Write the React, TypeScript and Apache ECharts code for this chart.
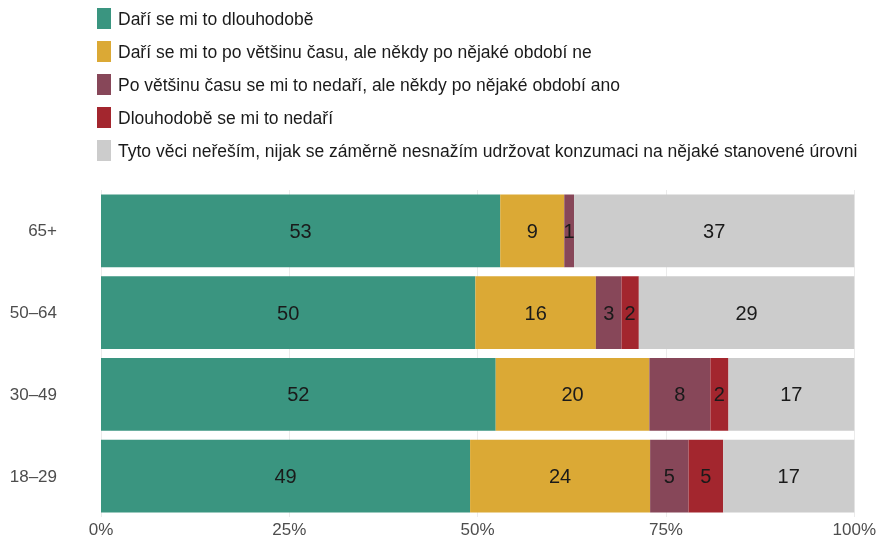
import React, { useEffect, useRef } from "react";
import * as echarts from "echarts";

const categories = ["18–29", "30–49", "50–64", "65+"];
const seriesNames = [
  "Daří se mi to dlouhodobě",
  "Daří se mi to po většinu času, ale někdy po nějaké období ne",
  "Po většinu času se mi to nedaří, ale někdy po nějaké období ano",
  "Dlouhodobě se mi to nedaří",
  "Tyto věci neřeším, nijak se záměrně nesnažím udržovat konzumaci na nějaké stanovené úrovni",
];
const longTerm = [49.0, 52.4, 49.7, 53.0];
const mostly = [23.9, 20.4, 16.0, 8.5];
const mostlyNot = [5.1, 8.1, 3.4, 1.3];
const longTermNot = [4.6, 2.4, 2.3, 0];
const notDealing = [17.4, 16.7, 28.6, 37.2];
const xTicks = [0, 25, 50, 75, 100];
const colors = ["#3a9580", "#dba935", "#874759", "#a3262e", "#cccccc"];

const FONT = "'Liberation Sans', Arial, sans-serif";

export default function App() {
  const ref = useRef<HTMLDivElement>(null);
  useEffect(() => {
    if (!ref.current) return;
    const chart = echarts.init(ref.current, undefined, { renderer: "svg" });
    const allData = [longTerm, mostly, mostlyNot, longTermNot, notDealing];
    chart.setOption({
      animation: false,
      textStyle: { fontFamily: FONT },
      legend: {
        orient: "vertical",
        left: 97,
        top: 8,
        padding: 0,
        itemWidth: 14,
        itemHeight: 21,
        itemGap: 12,
        icon: "rect",
        selectedMode: false,
        textStyle: { fontSize: 17.5, color: "#1a1a1a", fontFamily: FONT, padding: [0, 0, 0, 2] },
        data: seriesNames,
      },
      grid: { left: 101, right: 23, top: 190, bottom: 29, containLabel: false },
      xAxis: {
        type: "value",
        min: 0,
        max: 100,
        interval: 25,
        axisLine: { show: false },
        axisTick: { show: false },
        splitLine: { show: true, lineStyle: { color: "#ebebeb", width: 1 } },
        axisLabel: {
          formatter: (v: number) => (xTicks.includes(v) ? v + "%" : ""),
          fontSize: 17,
          color: "#4d4d4d",
          fontFamily: FONT,
          margin: 4,
        },
      },
      yAxis: {
        type: "category",
        data: categories,
        axisLine: { show: false },
        axisTick: { show: false },
        splitLine: { show: false },
        axisLabel: { fontSize: 17, color: "#4d4d4d", fontFamily: FONT, margin: 44 },
      },
      series: seriesNames.map((name, i) => ({
        name,
        type: "bar",
        stack: "total",
        barCategoryGap: "11%",
        itemStyle: { color: colors[i] },
        label: {
          show: true,
          position: "inside",
          fontSize: 20,
          color: "#1a1a1a",
          fontFamily: FONT,
          formatter: (p: any) => (p.value > 0 ? String(Math.round(p.value)) : ""),
        },
        data: allData[i],
      })),
    });
    return () => chart.dispose();
  }, []);
  return (
    <div
      ref={ref}
      style={{ position: "fixed", left: 0, top: 0, width: 879, height: 546 }}
    />
  );
}
